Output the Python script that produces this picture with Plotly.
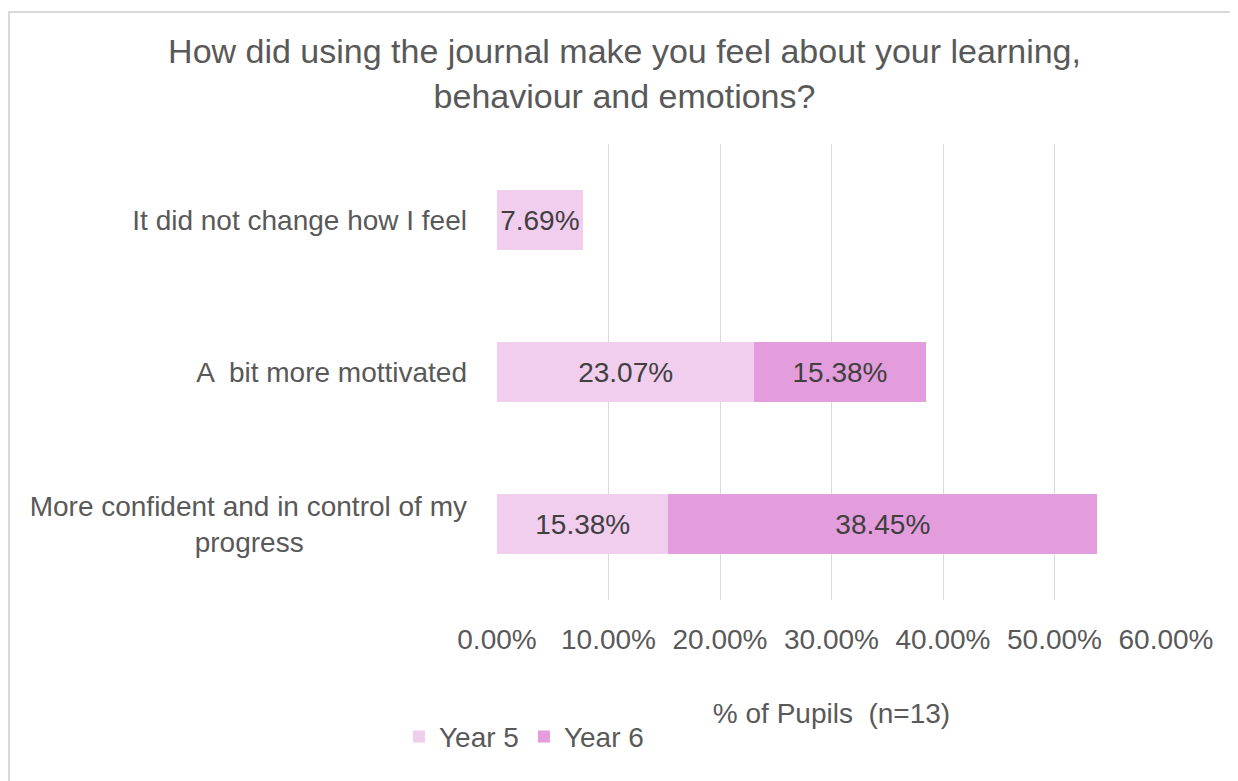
import plotly.graph_objects as go

nb = "\u00a0"
categories = ["More confident and in control of my<br>progress" + nb * 21, "A  bit more mottivated", "It did not change how I feel"]
year5 = [15.38, 23.07, 7.69]
year6 = [38.45, 15.38, None]
x_ticks = [0, 10, 20, 30, 40, 50, 60]
x_tick_labels = ["0.00%", "10.00%", "20.00%", "30.00%", "40.00%", "50.00%", "60.00%"]

c5 = "#F1CDEE"
c6 = "#E39DDC"
txt = "#595959"
font = "Liberation Sans, Arial, sans-serif"
fs = 28

def lab(v):
    return [("%.2f%%" % x) if x is not None else "" for x in v]

fig = go.Figure()
fig.add_trace(go.Bar(y=categories, x=year5, orientation="h", name="Year 5",
                     marker=dict(color=c5, line=dict(width=0)),
                     text=lab(year5), textposition="inside", insidetextanchor="middle",
                     textfont=dict(color="#404040", size=fs, family=font)))
fig.add_trace(go.Bar(y=categories, x=year6, orientation="h", name="Year 6",
                     marker=dict(color=c6, line=dict(width=0)),
                     text=lab(year6), textposition="inside", insidetextanchor="middle",
                     textfont=dict(color="#404040", size=fs, family=font)))

L, T, PW, PH = 489, 136, 669, 456

fig.update_layout(
    width=1238, height=781,
    barmode="stack", bargap=0.6,
    plot_bgcolor="white", paper_bgcolor="white",
    font=dict(family=font, color=txt, size=fs),
    margin=dict(l=L, r=1238 - L - PW, t=T, b=781 - T - PH),
    title=dict(text="How did using the journal make you feel about your learning,<br>behaviour and emotions?",
               x=0.498, xanchor="center", y=0.929, yanchor="middle",
               font=dict(size=34, color=txt, family=font)),
    xaxis=dict(range=[0, 60], tickvals=x_ticks, ticktext=x_tick_labels,
               showgrid=True, gridcolor="#D9D9D9", gridwidth=1, zeroline=False,
               showline=False, ticks="", ticklabelstandoff=20,
               tickfont=dict(size=fs, color=txt),
               title=dict(text="% of Pupils  (n=13)", standoff=49, font=dict(size=fs, color=txt))),
    yaxis=dict(showgrid=False, zeroline=False, showline=False, ticks="",
               ticklabelstandoff=29, tickfont=dict(size=fs, color=txt)),
    legend=dict(orientation="h", x=-0.1465, y=-0.3, xanchor="left", yanchor="middle",
                font=dict(size=fs, color=txt), itemwidth=30, traceorder="normal"),
    showlegend=True,
    shapes=[dict(type="rect", xref="paper", yref="paper",
                 x0=(1 - L) / PW, x1=(1260 - L) / PW, y0=(T + PH - 800) / PH, y1=(T + PH - 4) / PH,
                 line=dict(color="#D9D9D9", width=2), fillcolor="rgba(0,0,0,0)", layer="below")],
)

fig.write_html("out.html")
